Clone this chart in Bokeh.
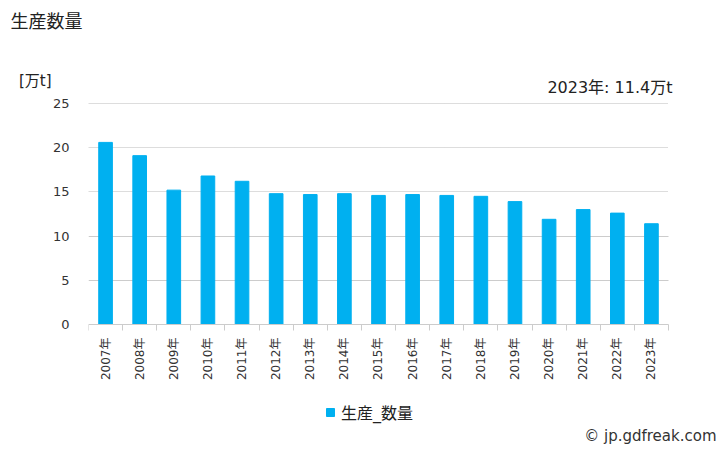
from bokeh.plotting import figure
from bokeh.models import (Range1d, FixedTicker, Label, Legend, LegendItem,
                          ColumnDataSource, Grid, LinearAxis, Title)
from bokeh.embed import file_html
from bokeh.resources import INLINE

years = ["2007年", "2008年", "2009年", "2010年", "2011年", "2012年", "2013年",
         "2014年", "2015年", "2016年", "2017年", "2018年", "2019年", "2020年",
         "2021年", "2022年", "2023年"]
values = [20.6, 19.1, 15.2, 16.8, 16.2, 14.8, 14.7, 14.8, 14.6, 14.7, 14.6,
          14.5, 13.9, 11.9, 13.0, 12.6, 11.4]
y_ticks = [0, 5, 10, 15, 20, 25]
title_text = "生産数量"
unit_text = "[万t]"
series_name = "生産_数量"
note_text = "2023年: 11.4万t"
credit_text = "© jp.gdfreak.com"

FONT = "DejaVu Sans, Noto Sans CJK JP"
BAR = "#00b0f0"
TXT = "#333333"

# layout in pixels
W, H = 728, 450
LEFT = 88                 # frame left
BARS_RIGHT = 668          # right end of the category area
FRAME_TOP = 36
ZERO_PX, TOP25_PX = 324, 103
Y_MAX = 25
PX_PER_UNIT = (ZERO_PX - TOP25_PX) / Y_MAX

n = len(years)
CAT_PX = (BARS_RIGHT - LEFT) / n
X_END = 0.5 + (W - LEFT) / CAT_PX
Y_END = (ZERO_PX - FRAME_TOP) / PX_PER_UNIT
Y_START = -(H - ZERO_PX) / PX_PER_UNIT
UNIT_Y = (ZERO_PX - 80) / PX_PER_UNIT

pos = list(range(1, n + 1))
src = ColumnDataSource(dict(x=pos, top=values, year=years))

p = figure(width=W, height=H, frame_width=W - LEFT, frame_height=H - FRAME_TOP,
           output_backend="svg", toolbar_location=None,
           x_range=Range1d(0.5, X_END), y_range=Range1d(Y_START, Y_END),
           min_border_left=LEFT, min_border_right=0,
           min_border_top=FRAME_TOP, min_border_bottom=0)
p.outline_line_color = None
p.background_fill_color = "white"
p.border_fill_color = "white"
p.title = Title(text=title_text, align="left", offset=-78, standoff=10,
                vertical_align="bottom", text_font=FONT, text_font_size="18px",
                text_font_style="normal", text_color="#222222")

r = p.vbar(x="x", top="top", width=0.4, source=src, color=BAR)

# category axis drawn at value 0
xa = p.xaxis[0]
xa.fixed_location = 0
xa.bounds = (0.5, n + 0.5)
xa.ticker = FixedTicker(ticks=pos, minor_ticks=[i + 0.5 for i in range(0, n + 1)])
xa.major_label_overrides = {i: y for i, y in zip(pos, years)}
xa.major_label_orientation = 1.5707963
xa.major_tick_line_color = None
xa.major_tick_out = 0
xa.major_tick_in = 0
xa.minor_tick_line_color = "#cccccc"
xa.minor_tick_in = 0
xa.minor_tick_out = 6
xa.axis_line_color = "#cccccc"
xa.major_label_text_font = FONT
xa.major_label_text_font_size = "12px"
xa.major_label_text_color = TXT
xa.major_label_standoff = 7

p.yaxis.ticker = FixedTicker(ticks=y_ticks)
p.yaxis.axis_line_color = None
p.yaxis.major_tick_line_color = None
p.yaxis.major_tick_out = 0
p.yaxis.major_tick_in = 0
p.yaxis.minor_tick_line_color = None
p.yaxis.major_label_text_font = FONT
p.yaxis.major_label_text_font_size = "13px"
p.yaxis.major_label_text_color = TXT
p.yaxis.major_label_standoff = 19

unit_axis = LinearAxis(ticker=FixedTicker(ticks=[UNIT_Y]),
                       major_label_overrides={UNIT_Y: unit_text},
                       axis_line_color=None, major_tick_line_color=None,
                       minor_tick_line_color=None, major_tick_out=0,
                       major_tick_in=0, major_label_standoff=-2,
                       major_label_text_font=FONT,
                       major_label_text_font_size="15px",
                       major_label_text_color="#222222")
p.add_layout(unit_axis, "left")

# horizontal grid lines, limited to the category area
p.xgrid.grid_line_color = None
p.ygrid.grid_line_color = None
has_cross = "cross_bounds" in Grid.properties()
if has_cross:
    g1 = Grid(dimension=1, ticker=FixedTicker(ticks=y_ticks[1:3]),
              grid_line_color="#cccccc", grid_line_width=1,
              cross_bounds=(0.5, n + 0.5))
    g2 = Grid(dimension=1, ticker=FixedTicker(ticks=y_ticks[3:]),
              grid_line_color="#bbbbbb", grid_line_dash="1 1",
              grid_line_width=1, cross_bounds=(0.5, n + 0.5))
    p.add_layout(g1)
    p.add_layout(g2)
else:
    solid = y_ticks[1:3]
    dotted = y_ticks[3:]
    p.segment(x0=[0.5] * len(solid), x1=[n + 0.5] * len(solid), y0=solid, y1=solid,
              line_color="#cccccc", line_width=1, level="underlay")
    p.segment(x0=[0.5] * len(dotted), x1=[n + 0.5] * len(dotted), y0=dotted,
              y1=dotted, line_color="#bbbbbb", line_width=1, line_dash="1 1",
              level="underlay")

# note with the latest value
p.add_layout(Label(x=n + 0.5, y=Y_MAX, x_offset=4, y_offset=16, text=note_text,
                   text_font=FONT, text_font_size="16px", text_color="#222222",
                   text_baseline="middle", text_align="right"))

# credit line
p.add_layout(Label(x=n + 0.5, y=0, x_offset=48, y_offset=-(435 - ZERO_PX),
                   text=credit_text, text_font=FONT, text_font_size="15px",
                   text_color=TXT, text_baseline="middle", text_align="right"))

# legend under the axis (inside the frame area)
legend = Legend(items=[LegendItem(label=series_name, renderers=[r])],
                location=(325 - LEFT, H - 424), orientation="horizontal",
                border_line_color=None, background_fill_alpha=0,
                padding=0, margin=0, glyph_width=10, glyph_height=10,
                label_standoff=6, label_text_font=FONT,
                label_text_font_size="16px", label_text_color="#222222")
p.add_layout(legend)

open("out.html", "w").write(file_html(p, INLINE))
